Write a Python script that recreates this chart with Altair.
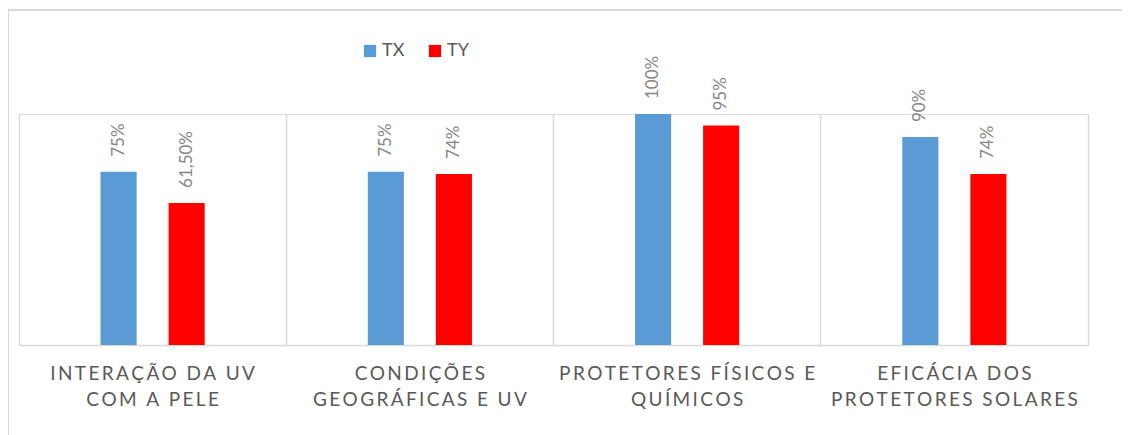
import json
import altair as alt
import pandas as pd

# ---- data ----
cat_line1 = ["INTERAÇÃO DA UV", "CONDIÇÕES", "PROTETORES FÍSICOS E", "EFICÁCIA DOS"]
cat_line2 = ["COM A PELE", "GEOGRÁFICAS E UV", "QUÍMICOS", "PROTETORES SOLARES"]
series_names = ["TX", "TY"]
tx_values = [0.75, 0.75, 1.00, 0.90]
ty_values = [0.615, 0.74, 0.95, 0.74]
tx_labels = ["75%", "75%", "100%", "90%"]
ty_labels = ["61,50%", "74%", "95%", "74%"]

BLUE = "#5B9BD5"
RED = "#FF0000"
GRID = "#d9d9d9"
TEXT = "#595959"
FONT = "Lato"

categories = [a + " " + b for a, b in zip(cat_line1, cat_line2)]

rows = []
for i, c in enumerate(categories):
    rows.append({"cat": c, "series": "TX", "value": tx_values[i], "label": tx_labels[i]})
    rows.append({"cat": c, "series": "TY", "value": ty_values[i], "label": ty_labels[i]})
df = pd.DataFrame(rows)


def spaced(s):
    return "\u2009".join(s)


mapping = {c: [spaced(a), spaced(b)] for c, a, b in zip(categories, cat_line1, cat_line2)}
label_expr = json.dumps(mapping, ensure_ascii=False) + "[datum.value]"

x_enc = alt.X(
    "cat:N",
    sort=categories,
    title=None,
    scale=alt.Scale(paddingInner=0, paddingOuter=0),
    axis=alt.Axis(
        labelExpr=label_expr,
        labelAngle=0,
        labelFont=FONT,
        labelFontSize=19,
        labelColor=TEXT,
        labelLineHeight=26,
        labelPadding=19,
        labelBaseline="top",
        labelLimit=0,
        ticks=False,
        grid=True,
        gridColor=GRID,
        gridWidth=1.5,
        bandPosition=0,
        domainColor=GRID,
        domainWidth=1.5,
    ),
)
# two empty slots either side of the pair keep the bars centred with a gap
offset_domain = ["_l", "TX", "TY", "_r"]
xo_enc = alt.XOffset(
    "series:N",
    scale=alt.Scale(domain=offset_domain, paddingInner=0.47, paddingOuter=0.198),
)
y_enc = alt.Y(
    "value:Q",
    scale=alt.Scale(domain=[0, 1], nice=False),
    title=None,
    axis=alt.Axis(
        orient="right",
        labels=False,
        ticks=False,
        grid=False,
        domainColor=GRID,
        domainWidth=1.5,
    ),
)

bars = alt.Chart(df).mark_bar().encode(
    x=x_enc,
    xOffset=xo_enc,
    y=y_enc,
    color=alt.Color(
        "series:N",
        scale=alt.Scale(domain=series_names, range=[BLUE, RED]),
        legend=alt.Legend(
            orient="none",
            direction="horizontal",
            legendX=342,
            legendY=-72,
            title=None,
            symbolType="square",
            symbolSize=150,
            symbolStrokeWidth=0,
            symbolOpacity=1,
            labelFont=FONT,
            labelFontSize=18,
            labelColor=TEXT,
            columnPadding=21,
            labelOffset=3,
        ),
    ),
)

labels = alt.Chart(df).mark_text(
    angle=270,
    align="left",
    baseline="middle",
    dx=15,
    font=FONT,
    fontSize=17,
    color="#868686",
).encode(x=x_enc, xOffset=xo_enc, y=y_enc, text="label:N")

frame_src = alt.Data(values=[{"k": 1}])
top_border = alt.Chart(frame_src).mark_rule(color=GRID, strokeWidth=2).encode(
    x=alt.value(-11), x2=alt.value(1103), y=alt.value(-104)
)
left_border = alt.Chart(frame_src).mark_rule(color=GRID, strokeWidth=2).encode(
    x=alt.value(-11), y=alt.value(-104), y2=alt.value(321)
)

chart = (
    alt.layer(bars, labels, top_border, left_border)
    .properties(
        width=1069,
        height=231,
        autosize=alt.AutoSizeParams(type="none"),
        padding={"left": 11, "top": 106, "right": 34, "bottom": 90},
    )
    .configure_view(stroke=None)
    .configure(background="white")
)

chart.save("out.html", embed_options={"renderer": "svg", "actions": False})
